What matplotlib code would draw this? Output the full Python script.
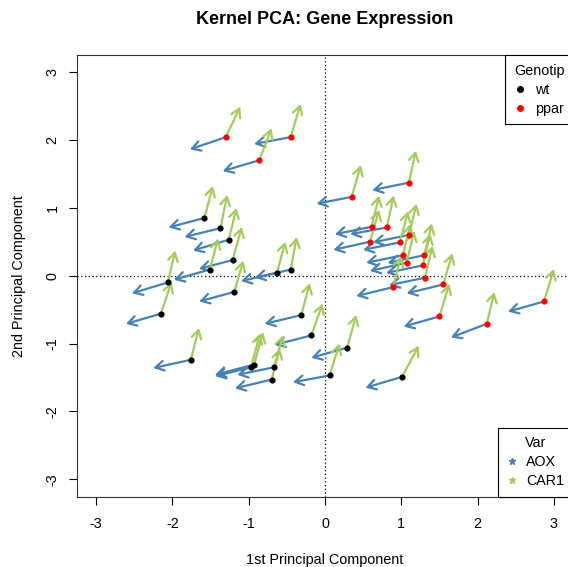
import numpy as np
import matplotlib.pyplot as plt
from matplotlib.lines import Line2D

plt.rcParams['font.family'] = ['Liberation Sans', 'DejaVu Sans']
plt.rcParams['font.size'] = 10
plt.rcParams['axes.unicode_minus'] = False

# wild type samples: position and arrow offsets (AOX, CAR1)
wt_x = [-1.58, -1.37, -1.26, -1.21, -1.51, -2.06, -0.63, -0.45, -1.19, -2.15,
        -1.76, -0.31, -0.18, -0.97, -0.93, -0.67, -0.70, 0.29, 0.06, 1.01]
wt_y = [0.85, 0.70, 0.53, 0.23, 0.09, -0.10, 0.04, 0.09, -0.24, -0.56,
        -1.24, -0.58, -0.88, -1.35, -1.31, -1.35, -1.53, -1.06, -1.47, -1.49]
wt_aox_dx = [-0.47, -0.47, -0.47, -0.44, -0.47, -0.47, -0.47, -0.47, -0.46, -0.46,
             -0.49, -0.48, -0.48, -0.47, -0.51, -0.48, -0.48, -0.47, -0.48, -0.48]
wt_aox_dy = [-0.14, -0.13, -0.16, -0.13, -0.15, -0.16, -0.12, -0.12, -0.14, -0.15,
             -0.12, -0.13, -0.14, -0.13, -0.15, -0.11, -0.13, -0.15, -0.10, -0.16]
wt_car_dx = [0.11, 0.09, 0.10, 0.12, 0.11, 0.10, 0.11, 0.08, 0.12, 0.14,
             0.11, 0.11, 0.15, 0.12, 0.12, 0.12, 0.11, 0.12, 0.13, 0.22]
wt_car_dy = [0.47, 0.49, 0.47, 0.49, 0.46, 0.47, 0.46, 0.48, 0.46, 0.47,
             0.47, 0.47, 0.47, 0.50, 0.48, 0.47, 0.46, 0.48, 0.47, 0.46]

# ppar samples
ppar_x = [-1.30, -0.86, -0.45, 0.35, 1.10, 0.61, 0.81, 0.59, 0.98, 1.10,
          1.02, 1.07, 1.30, 1.28, 1.31, 0.89, 1.55, 1.50, 2.12, 2.87]
ppar_y = [2.04, 1.70, 2.04, 1.16, 1.37, 0.72, 0.71, 0.50, 0.49, 0.60,
          0.30, 0.19, 0.30, 0.15, -0.03, -0.17, -0.13, -0.60, -0.71, -0.38]
ppar_aox_dx = [-0.47, -0.48, -0.48, -0.46, -0.48, -0.48, -0.48, -0.48, -0.48, -0.47,
               -0.48, -0.48, -0.48, -0.48, -0.47, -0.48, -0.48, -0.47, -0.47, -0.47]
ppar_aox_dy = [-0.18, -0.16, -0.10, -0.10, -0.11, -0.11, -0.10, -0.12, -0.11, -0.11,
               -0.11, -0.12, -0.11, -0.11, -0.11, -0.13, -0.13, -0.15, -0.20, -0.15]
ppar_car_dx = [0.19, 0.16, 0.13, 0.12, 0.09, 0.10, 0.09, 0.12, 0.11, 0.10,
               0.10, 0.10, 0.10, 0.10, 0.10, 0.11, 0.12, 0.13, 0.10, 0.13]
ppar_car_dy = [0.45, 0.47, 0.49, 0.47, 0.47, 0.46, 0.47, 0.47, 0.46, 0.46,
               0.46, 0.47, 0.47, 0.47, 0.47, 0.46, 0.46, 0.48, 0.47, 0.48]

ticks = [-3, -2, -1, 0, 1, 2, 3]
aox_col = '#4682B4'
car_col = '#A2CD5A'

fig = plt.figure(figsize=(5.68, 5.67), dpi=100)
ax = fig.add_axes([77/568, 70/567, 496/568, 442/567])

def draw_arrows(xs, ys, dxs, dys, color):
	for x, y, dx, dy in zip(xs, ys, dxs, dys):
		ax.annotate('', xy=(x+dx, y+dy), xytext=(x, y),
			arrowprops=dict(arrowstyle='->,head_length=0.6,head_width=0.35',
				color=color, lw=1.6, shrinkA=0, shrinkB=0), annotation_clip=False)

ax.axhline(0, color='black', lw=0.9, ls=(0, (1, 2)), zorder=1)
ax.axvline(0, color='black', lw=0.9, ls=(0, (1, 2)), zorder=1)

for xs, ys, adx, ady, cdx, cdy in [(wt_x, wt_y, wt_aox_dx, wt_aox_dy, wt_car_dx, wt_car_dy),
		(ppar_x, ppar_y, ppar_aox_dx, ppar_aox_dy, ppar_car_dx, ppar_car_dy)]:
	draw_arrows(xs, ys, adx, ady, aox_col)
	draw_arrows(xs, ys, cdx, cdy, car_col)

ax.scatter(wt_x, wt_y, s=20, c='black', zorder=3, linewidths=0)
ax.scatter(ppar_x, ppar_y, s=20, c='red', zorder=3, linewidths=0)

ax.set_xlim(-3.25, 3.25)
ax.set_ylim(-3.26, 3.25)
ax.set_xticks(ticks)
ax.set_yticks(ticks)
ax.tick_params(length=5.5, width=0.8, pad=9, labelsize=10.3)
ax.tick_params(axis='y', labelrotation=90, pad=7)
for lab in ax.get_yticklabels():
	lab.set_va('center')
for s in ax.spines.values():
	s.set_linewidth(0.8)
	s.set_color('#333333')

fig.text(325/568, 1-19/567, 'Kernel PCA: Gene Expression', ha='center', va='center',
	fontsize=13, fontweight='bold')
fig.text(325/568, 1-560/567, '1st Principal Component', ha='center', va='center', fontsize=10.4)
fig.text(19/568, 1-276/567, '2nd Principal Component', ha='center', va='center',
	rotation=90, fontsize=10.4)

h1 = [Line2D([], [], marker='o', ls='', color='black', markersize=4, label='wt'),
	Line2D([], [], marker='o', ls='', color='red', markersize=4, label='ppar')]
leg1 = ax.legend(handles=h1, title='Genotip', loc='upper right', borderaxespad=0,
	fancybox=False, edgecolor='black', framealpha=1, handlelength=0.8,
	handletextpad=0.6, borderpad=0.6, labelspacing=0.35, fontsize=10.3, title_fontsize=10.3)
leg1.get_frame().set_linewidth(0.8)
ax.add_artist(leg1)

h2 = [Line2D([], [], marker='*', ls='', color=aox_col, markersize=5, label='AOX'),
	Line2D([], [], marker='*', ls='', color=car_col, markersize=5, label='CAR1')]
leg2 = ax.legend(handles=h2, title='Var', loc='lower right', borderaxespad=0,
	fancybox=False, edgecolor='black', framealpha=1, handlelength=0.8,
	handletextpad=0.6, borderpad=0.6, labelspacing=0.35, fontsize=10.3, title_fontsize=10.3)
leg2.get_frame().set_linewidth(0.8)

fig.savefig('out.png', dpi=100)
